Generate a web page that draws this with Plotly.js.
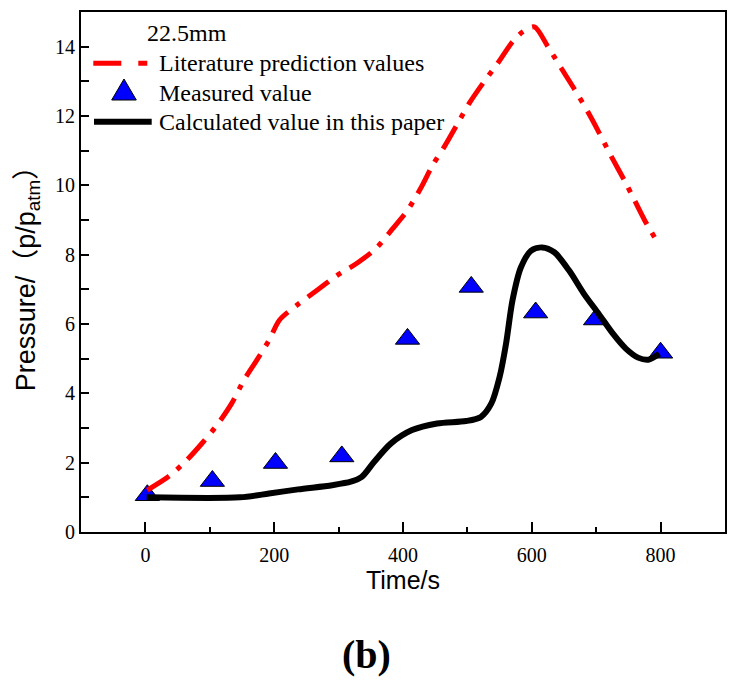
<!DOCTYPE html>
<html><head><meta charset="utf-8">
<script src="https://cdn.plot.ly/plotly-3.0.1.min.js"></script>
<style>html,body{margin:0;padding:0;background:#fff;}#chart{width:738px;height:684px;}</style>
</head><body><div id="chart"></div>
<script>
// ---- data ----
const litTime = [3, 36, 62, 88, 111, 134, 153, 173, 192, 208, 235, 267, 296, 329, 358, 384, 407, 427, 446, 464, 485, 503, 524, 547, 570, 586, 604, 625, 646, 667, 687, 705, 723, 745, 760, 775, 798];
const litPressure = [1.21, 1.6, 2.03, 2.56, 3.08, 3.71, 4.38, 4.96, 5.53, 6.11, 6.54, 6.98, 7.38, 7.76, 8.18, 8.75, 9.28, 9.9, 10.58, 11.11, 11.79, 12.37, 12.94, 13.52, 14.14, 14.43, 14.57, 14.0, 13.37, 12.75, 12.12, 11.5, 10.85, 10.1, 9.55, 9.0, 8.27];
const measTime = [3, 104, 202, 305, 407, 506, 606, 699, 800];
const measPressure = [1.06, 1.47, 1.99, 2.18, 5.57, 7.07, 6.33, 6.13, 5.17];
const calcTime = [2, 147, 192, 237, 290, 319, 336, 355, 381, 414, 453, 498, 521, 537, 550, 560, 570, 583, 599, 616, 635, 658, 681, 704, 726, 746, 765, 781, 798];
const calcPressure = [1.0, 1.0, 1.11, 1.23, 1.35, 1.45, 1.59, 2.02, 2.55, 2.94, 3.13, 3.2, 3.32, 3.7, 4.47, 5.43, 6.68, 7.63, 8.12, 8.21, 8.07, 7.54, 6.87, 6.29, 5.72, 5.29, 5.03, 4.97, 5.14];
const seriesNames = ['Literature prediction values', 'Measured value', 'Calculated value in this paper'];
const legendTitle = '22.5mm';
const xTitle = 'Time/s';
const yTitle = 'Pressure/（p/p<sub>atm</sub>）';
const panelLabel = '(b)';

// ---- layout geometry (pixels) ----
const L = 81, T = 12, W = 644, H = 520;
const px = x => (x - L) / W;
const py = y => (T + H - y) / H;

const serif = 'Liberation Serif, Times New Roman, serif';
const sans = 'Liberation Sans, Arial, Noto Sans CJK SC, sans-serif';

const traces = [
  {x: measTime, y: measPressure, type: 'scatter', mode: 'markers', name: seriesNames[1],
   marker: {symbol: 'triangle-up', size: 21, color: '#0000ff', line: {color: '#000', width: 1}}},
  {x: litTime, y: litPressure, type: 'scatter', mode: 'lines', name: seriesNames[0],
   line: {color: '#ff0000', width: 5, dash: '26px,10px,5px,10px', shape: 'spline', smoothing: 0.8}},
  {x: calcTime, y: calcPressure, type: 'scatter', mode: 'lines', name: seriesNames[2],
   line: {color: '#000000', width: 6, shape: 'spline', smoothing: 0.8}}
];

const axisCommon = {
  showline: true, mirror: true, linecolor: '#000', linewidth: 2,
  showgrid: false, zeroline: false, ticks: 'inside', tickcolor: '#000', tickwidth: 2,
  tickfont: {family: serif, size: 20, color: '#000'}
};

const layout = {
  width: 738, height: 684,
  margin: {l: L, r: 738 - L - W, t: T, b: 684 - T - H},
  paper_bgcolor: '#fff', plot_bgcolor: '#fff',
  showlegend: false,
  xaxis: Object.assign({}, axisCommon, {
    range: [-100, 900], tickmode: 'linear', tick0: 0, dtick: 200, ticklen: 10,
    ticklabelstandoff: 4,
    minor: {dtick: 100, ticks: 'inside', ticklen: 5, tickwidth: 2, tickcolor: '#000'},
    title: {text: xTitle, font: {family: sans, size: 25, color: '#000'}, standoff: 0}
  }),
  yaxis: Object.assign({}, axisCommon, {
    range: [0, 15], tickmode: 'linear', tick0: 0, dtick: 2, ticklen: 8,
    minor: {dtick: 1, ticks: 'inside', ticklen: 8, tickwidth: 2, tickcolor: '#000'},
    title: {text: yTitle, font: {family: sans, size: 27, color: '#000'}, standoff: 12}
  }),
  shapes: [
    {type: 'line', xref: 'paper', yref: 'paper', x0: px(93.3), x1: px(149.3), y0: py(63.3), y1: py(63.3),
     line: {color: '#ff0000', width: 5, dash: '28px,17px,9px,40px'}},
    {type: 'path', xref: 'paper', yref: 'paper',
     path: 'M ' + px(124) + ' ' + py(79) + ' L ' + px(136.3) + ' ' + py(100) + ' L ' + px(111.7) + ' ' + py(100) + ' Z',
     fillcolor: '#0000ff', line: {color: '#000', width: 1}},
    {type: 'line', xref: 'paper', yref: 'paper', x0: px(94), x1: px(151.7), y0: py(121.7), y1: py(121.7),
     line: {color: '#000', width: 6}}
  ],
  annotations: [
    {text: legendTitle, xref: 'paper', yref: 'paper', x: px(145), y: py(33.3), xanchor: 'left', yanchor: 'middle',
     showarrow: false, font: {family: serif, size: 24, color: '#000'}},
    {text: seriesNames[0], xref: 'paper', yref: 'paper', x: px(156.5), y: py(63.3), xanchor: 'left', yanchor: 'middle',
     showarrow: false, font: {family: serif, size: 24, color: '#000'}},
    {text: seriesNames[1], xref: 'paper', yref: 'paper', x: px(156.5), y: py(93.3), xanchor: 'left', yanchor: 'middle',
     showarrow: false, font: {family: serif, size: 24, color: '#000'}},
    {text: seriesNames[2], xref: 'paper', yref: 'paper', x: px(156.5), y: py(121.7), xanchor: 'left', yanchor: 'middle',
     showarrow: false, font: {family: serif, size: 24, color: '#000'}},
    {text: '<b>' + panelLabel + '</b>', xref: 'paper', yref: 'paper', x: px(366), y: py(654), xanchor: 'center', yanchor: 'middle',
     showarrow: false, font: {family: serif, size: 40, color: '#000'}}
  ]
};

Plotly.newPlot('chart', traces, layout, {displayModeBar: false, staticPlot: true});
</script>
</body></html>
